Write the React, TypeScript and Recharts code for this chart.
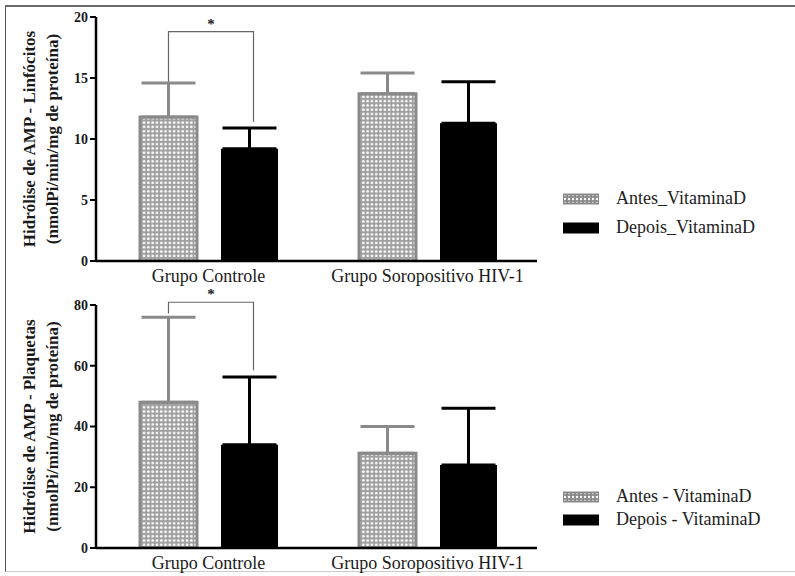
import React from "react";
import { BarChart, Bar, XAxis, YAxis, ErrorBar, Legend } from "recharts";

const categories = ["Grupo Controle", "Grupo Soropositivo HIV-1"];

// Top panel (Linfócitos)
const linfAntes = [11.8, 13.7];
const linfAntesErr = [2.8, 1.7];
const linfDepois = [9.2, 11.3];
const linfDepoisErr = [1.7, 3.4];
const linfTicks = [0, 5, 10, 15, 20];

// Bottom panel (Plaquetas)
const plaqAntes = [48, 31.2];
const plaqAntesErr = [28, 8.8];
const plaqDepois = [34, 27.3];
const plaqDepoisErr = [22.3, 18.7];
const plaqTicks = [0, 20, 40, 60, 80];

// significance brackets: [top, leftEnd, rightEnd] per panel
const sigLinf = [18.8, 14.7, 11.4];
const sigPlaq = [80.9, 77.2, 58.5];

const legendLinf = ["Antes_VitaminaD", "Depois_VitaminaD"];
const legendPlaq = ["Antes - VitaminaD", "Depois - VitaminaD"];

const yLabelLinf = ["Hidrólise de AMP - Linfócitos", "(nmolPi/min/mg de proteína)"];
const yLabelPlaq = ["Hidrólise de AMP - Plaquetas", "(nmolPi/min/mg de proteína)"];

const BAR_SIZE = 57;
const BAR_GAP = 24;
const GRAY = "#8a8a8a";
const SERIF = "'Liberation Serif', 'Times New Roman', serif";

function build(antes: number[], antesErr: number[], depois: number[], depoisErr: number[]) {
  return categories.map((c, i) => ({
    cat: c,
    antes: antes[i],
    antesErr: [0, antesErr[i]],
    depois: depois[i],
    depoisErr: [0, depoisErr[i]],
  }));
}

const YLabel = (props: any) => {
  const vb = props.viewBox || {};
  const cy = (vb.y || 0) + (vb.height || 0) / 2;
  const lines: string[] = props.lines;
  const xs = [29, 52];
  return (
    <g>
      {lines.map((t, i) => (
        <text
          key={i}
          x={xs[i]}
          y={cy}
          transform={`rotate(-90, ${xs[i]}, ${cy})`}
          textAnchor="middle"
          dominantBaseline="central"
          fontFamily={SERIF}
          fontWeight="bold"
          fontSize={17}
          fill="#1a1a1a"
        >
          {t}
        </text>
      ))}
    </g>
  );
};

function makeBracket(sig: number[]) {
  return (p: any) => {
    if (p.index !== 0) return null;
    const vb = p.viewBox || p;
    const x = Number(vb.x ?? p.x);
    const y = Number(vb.y ?? p.y);
    const w = Number(vb.width ?? p.width);
    const h = Number(vb.height ?? p.height);
    const v = Number(p.value);
    if (!isFinite(x) || !isFinite(h) || !v) return null;
    const ppu = h / v;
    const base = y + h;
    const yOf = (val: number) => base - val * ppu;
    const lx = x + w / 2;
    const rx = lx + w + BAR_GAP + 4;
    const ty = yOf(sig[0]);
    return (
      <g>
        <path
          d={`M${lx},${yOf(sig[1])} V${ty} H${rx} V${yOf(sig[2])}`}
          fill="none"
          stroke="#666"
          strokeWidth={1.2}
        />
        <text
          x={(lx + rx) / 2}
          y={ty - 3}
          textAnchor="middle"
          fontFamily={SERIF}
          fontSize={15}
          fontWeight="bold"
          fill="#222"
        >
          *
        </text>
      </g>
    );
  };
}

const Swatch = ({ hatched, id, h }: { hatched: boolean; id: string; h: number }) => (
  <svg width={36} height={12} style={{ display: "block" }}>
    <defs>
      <pattern id={id} width={4} height={4} patternUnits="userSpaceOnUse">
        <rect width={4} height={4} fill={GRAY} />
        <circle cx={2} cy={2} r={1.2} fill="#fff" />
      </pattern>
    </defs>
    {hatched ? (
      <rect x={0} y={(12 - h) / 2} width={36} height={h} fill={`url(#${id})`} stroke={GRAY} strokeWidth={2} />
    ) : (
      <rect x={0} y={(12 - h) / 2} width={36} height={h} fill="#000" />
    )}
  </svg>
);

function makeLegend(labels: string[], rowH: number, prefix: string) {
  return () => (
    <div>
      {labels.map((t, i) => (
        <div key={t} style={{ display: "flex", alignItems: "center", height: rowH }}>
          <Swatch hatched={i === 0} id={`${prefix}-sw${i}`} h={i === 0 ? 9 : 11} />
          <span style={{ marginLeft: 17, fontFamily: SERIF, fontSize: 18, color: "#222", whiteSpace: "nowrap" }}>
            {t}
          </span>
        </div>
      ))}
    </div>
  );
}

function Panel(props: {
  data: any[];
  ticks: number[];
  max: number;
  sig: number[];
  yLabel: string[];
  legend: string[];
  legendTop: number;
  rowH: number;
  prefix: string;
  height: number;
  top: number;
}) {
  const { data, ticks, max, sig, yLabel, legend, legendTop, rowH, prefix, height, top } = props;
  return (
    <BarChart
      width={795}
      height={height}
      data={data}
      margin={{ top, right: 258, left: 0, bottom: 0 }}
      barSize={BAR_SIZE}
      barGap={BAR_GAP}
    >
      <defs>
        <pattern id={`${prefix}-hatch`} width={4.3} height={4.3} patternUnits="userSpaceOnUse">
          <rect width={4.3} height={4.3} fill="#a0a0a0" />
          <circle cx={2.15} cy={2.15} r={1.35} fill="#fff" />
        </pattern>
      </defs>
      <XAxis
        dataKey="cat"
        height={29}
        axisLine={{ stroke: "#000", strokeWidth: 2.5 }}
        tickLine={false}
        tickSize={6}
        tick={{ fontFamily: SERIF, fontSize: 18, fill: "#1a1a1a" }}
        padding={{ left: 3, right: 0 }}
      />
      <YAxis
        width={96}
        domain={[0, max]}
        ticks={ticks}
        interval={0}
        allowDataOverflow
        axisLine={{ stroke: "#000", strokeWidth: 2.5 }}
        tickLine={{ stroke: "#000", strokeWidth: 2 }}
        tickSize={6}
        tick={{ fontFamily: SERIF, fontSize: 14, fontWeight: "bold", fill: "#1a1a1a" }}
        label={<YLabel lines={yLabel} />}
      />
      <Legend
        layout="horizontal"
        verticalAlign="middle"
        align="center"
        content={makeLegend(legend, rowH, prefix)}
        wrapperStyle={{ position: "absolute", left: 563, top: legendTop, width: 230 }}
      />
      <Bar
        dataKey="antes"
        fill={`url(#${prefix}-hatch)`}
        stroke={GRAY}
        strokeWidth={3}
        isAnimationActive={false}
        label={makeBracket(sig)}
      >
        <ErrorBar dataKey="antesErr" width={27} stroke={GRAY} strokeWidth={3} direction="y" />
      </Bar>
      <Bar dataKey="depois" fill="#000" isAnimationActive={false}>
        <ErrorBar dataKey="depoisErr" width={27} stroke="#000" strokeWidth={3} direction="y" />
      </Bar>
    </BarChart>
  );
}

export default function App() {
  const topData = build(linfAntes, linfAntesErr, linfDepois, linfDepoisErr);
  const botData = build(plaqAntes, plaqAntesErr, plaqDepois, plaqDepoisErr);
  return (
    <div style={{ position: "absolute", left: 0, top: 0, width: 795, height: 576, background: "#fff" }}>
      <div
        style={{
          position: "absolute",
          left: 5,
          top: 5,
          width: 790,
          height: 567,
          borderTop: "2px solid #6a6a6a",
          borderLeft: "1.5px solid #555",
          borderBottom: "1px solid #ccc",
          boxSizing: "border-box",
        }}
      />
      <div style={{ position: "absolute", left: 0, top: 0 }}>
        <Panel
          data={topData}
          ticks={linfTicks}
          max={20}
          sig={sigLinf}
          yLabel={yLabelLinf}
          legend={legendLinf}
          legendTop={184}
          rowH={29}
          prefix="linf"
          height={290}
          top={17}
        />
      </div>
      <div style={{ position: "absolute", left: 0, top: 276 }}>
        <Panel
          data={botData}
          ticks={plaqTicks}
          max={80}
          sig={sigPlaq}
          yLabel={yLabelPlaq}
          legend={legendPlaq}
          legendTop={209}
          rowH={23}
          prefix="plaq"
          height={301}
          top={29}
        />
      </div>
    </div>
  );
}
